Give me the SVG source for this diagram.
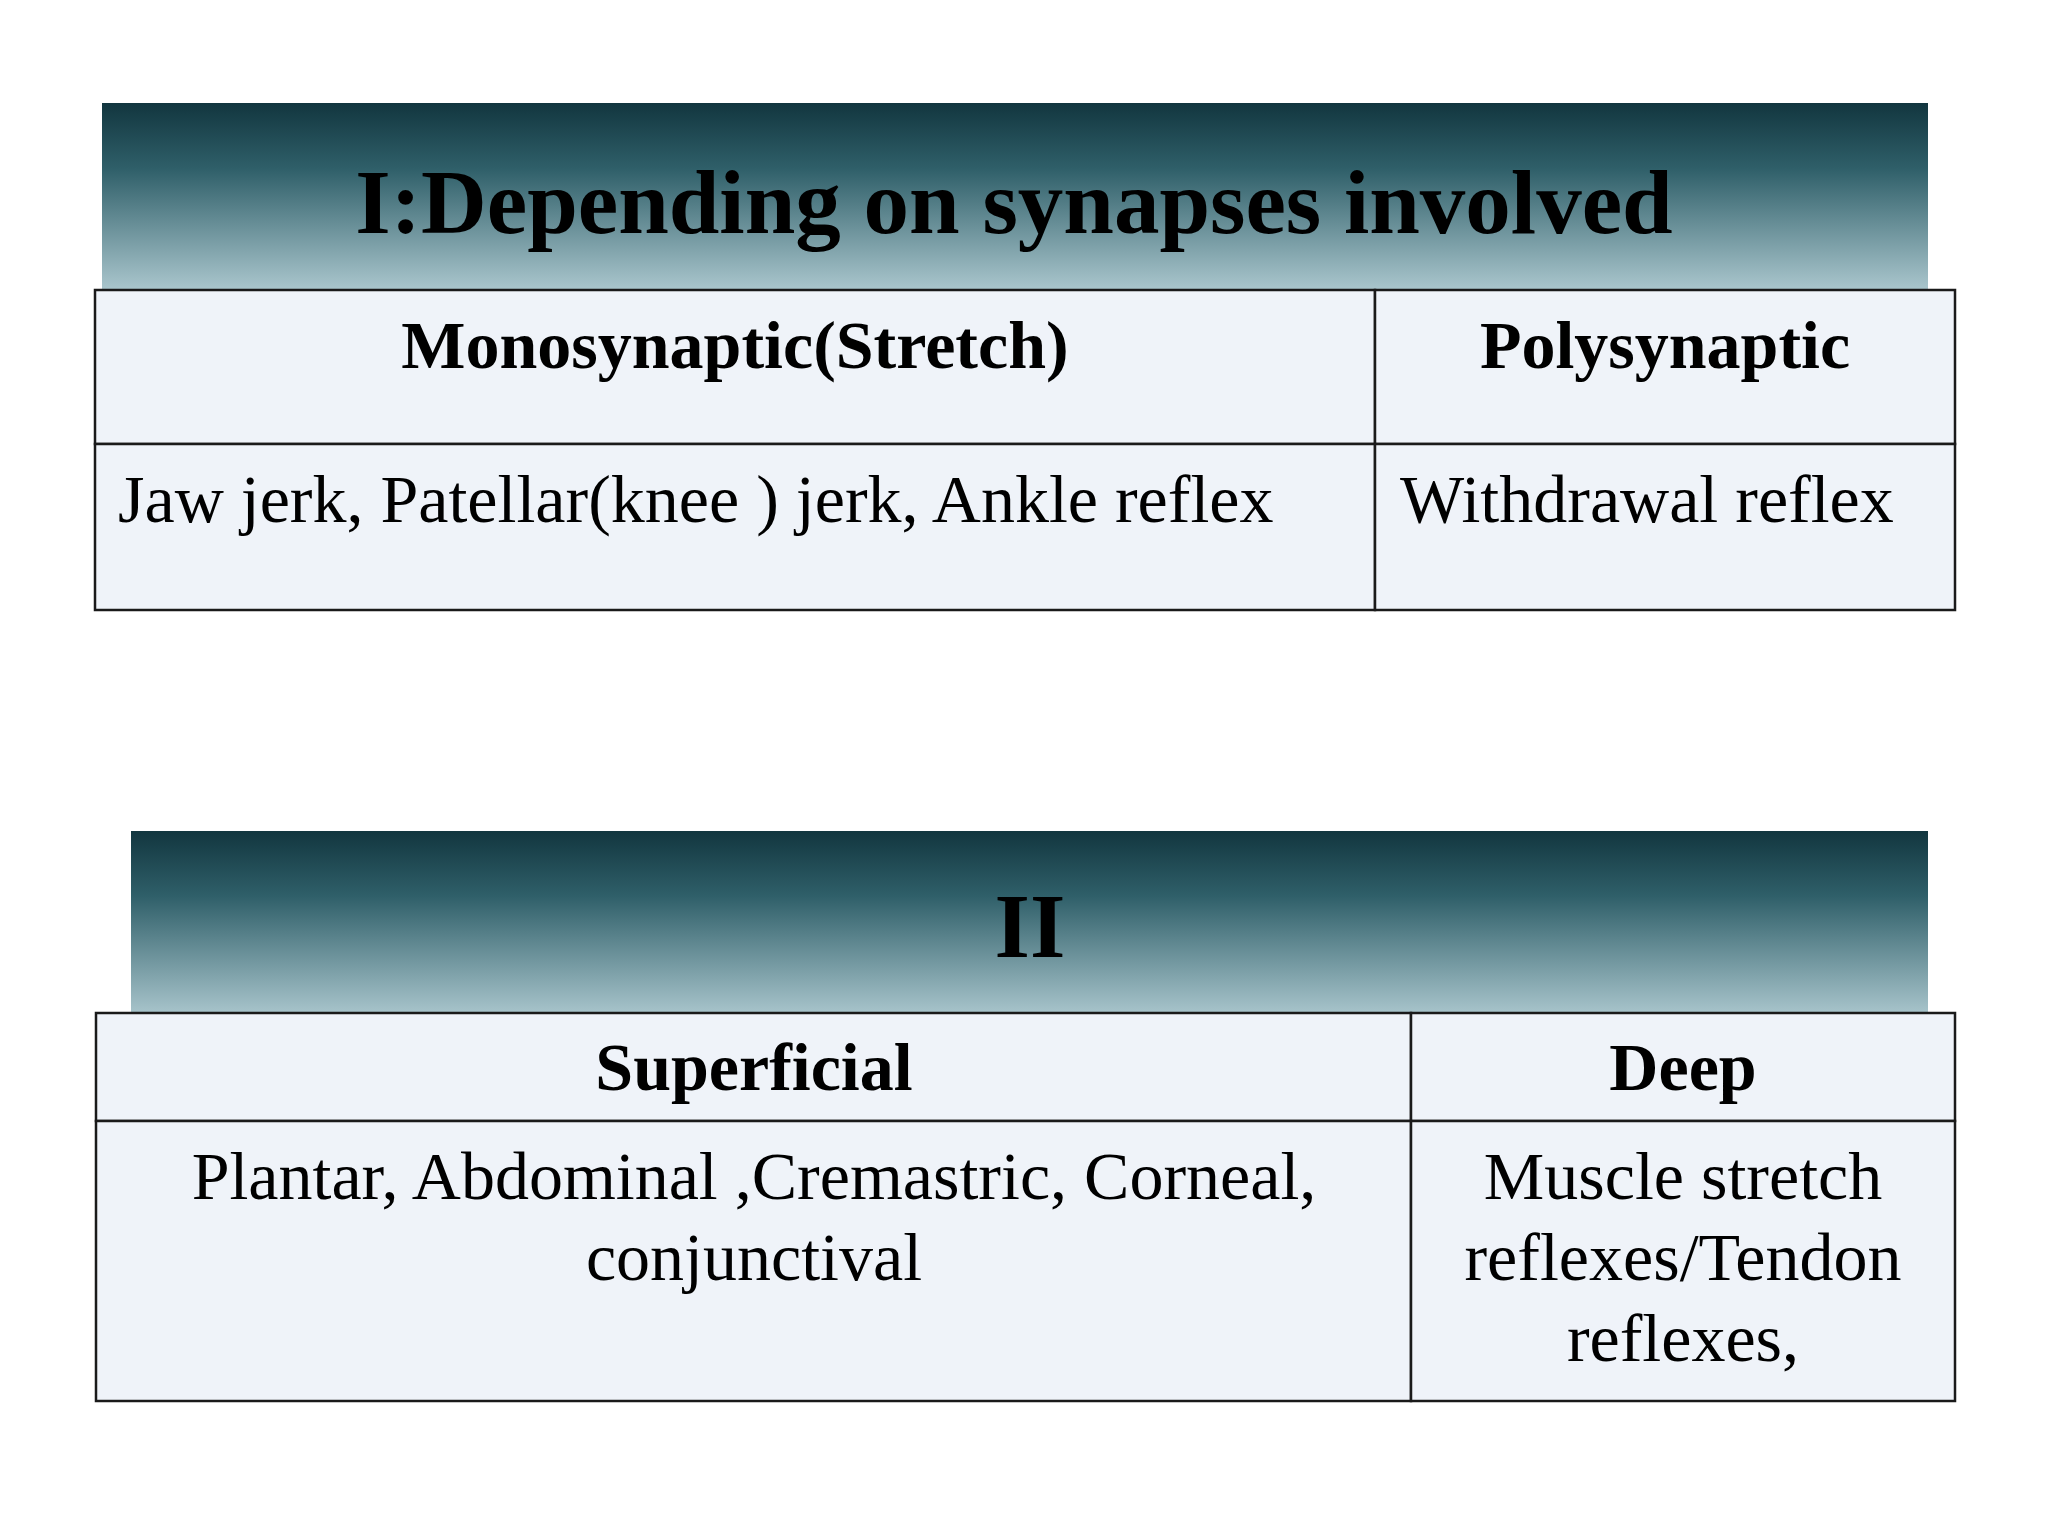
<svg xmlns="http://www.w3.org/2000/svg" width="2048" height="1536" viewBox="0 0 2048 1536">
<defs>
<linearGradient id="hg" x1="0" y1="0" x2="0" y2="1">
<stop offset="0" stop-color="#12363f"/><stop offset="0.35" stop-color="#2f5f69"/><stop offset="1" stop-color="#aac6cd"/>
</linearGradient>
<style>
.t{font-family:"Liberation Serif",serif;fill:#000}
.b{font-weight:bold}
.c{fill:#eff3f9;stroke:#1a1a1a;stroke-width:2.5}
</style>
</defs>
<rect width="2048" height="1536" fill="#fff"/>
<g id="header1"><rect x="102" y="103" width="1826" height="187" fill="url(#hg)"/>
<text class="t b" x="1014" y="233" font-size="91" text-anchor="middle">I:Depending on synapses involved</text></g>
<g id="table1">
<rect class="c" x="95" y="290" width="1280" height="154"/>
<rect class="c" x="1375" y="290" width="580" height="154"/>
<rect class="c" x="95" y="444" width="1280" height="166"/>
<rect class="c" x="1375" y="444" width="580" height="166"/>
<text class="t b" x="735" y="368" font-size="68" text-anchor="middle">Monosynaptic(Stretch)</text>
<text class="t b" x="1665" y="368" font-size="68" text-anchor="middle">Polysynaptic</text>
<text class="t" x="118" y="522" font-size="68">Jaw jerk, Patellar(knee ) jerk, Ankle reflex</text>
<text class="t" x="1400" y="522" font-size="68">Withdrawal reflex</text>
</g>
<g id="header2"><rect x="131" y="831" width="1797" height="185" fill="url(#hg)"/>
<text class="t b" x="1030" y="957" font-size="91" text-anchor="middle">II</text></g>
<g id="table2">
<rect class="c" x="96" y="1013" width="1315" height="108"/>
<rect class="c" x="1411" y="1013" width="544" height="108"/>
<rect class="c" x="96" y="1121" width="1315" height="280"/>
<rect class="c" x="1411" y="1121" width="544" height="280"/>
<text class="t b" x="754" y="1090" font-size="68" text-anchor="middle">Superficial</text>
<text class="t b" x="1683" y="1090" font-size="68" text-anchor="middle">Deep</text>
<text class="t" x="754" y="1199" font-size="68" text-anchor="middle">Plantar, Abdominal ,Cremastric, Corneal,</text>
<text class="t" x="754" y="1280" font-size="68" text-anchor="middle">conjunctival</text>
<text class="t" x="1683" y="1199" font-size="68" text-anchor="middle">Muscle stretch</text>
<text class="t" x="1683" y="1280" font-size="68" text-anchor="middle">reflexes/Tendon</text>
<text class="t" x="1683" y="1361" font-size="68" text-anchor="middle">reflexes,</text>
</g>
<g id="connectors"/>
</svg>
